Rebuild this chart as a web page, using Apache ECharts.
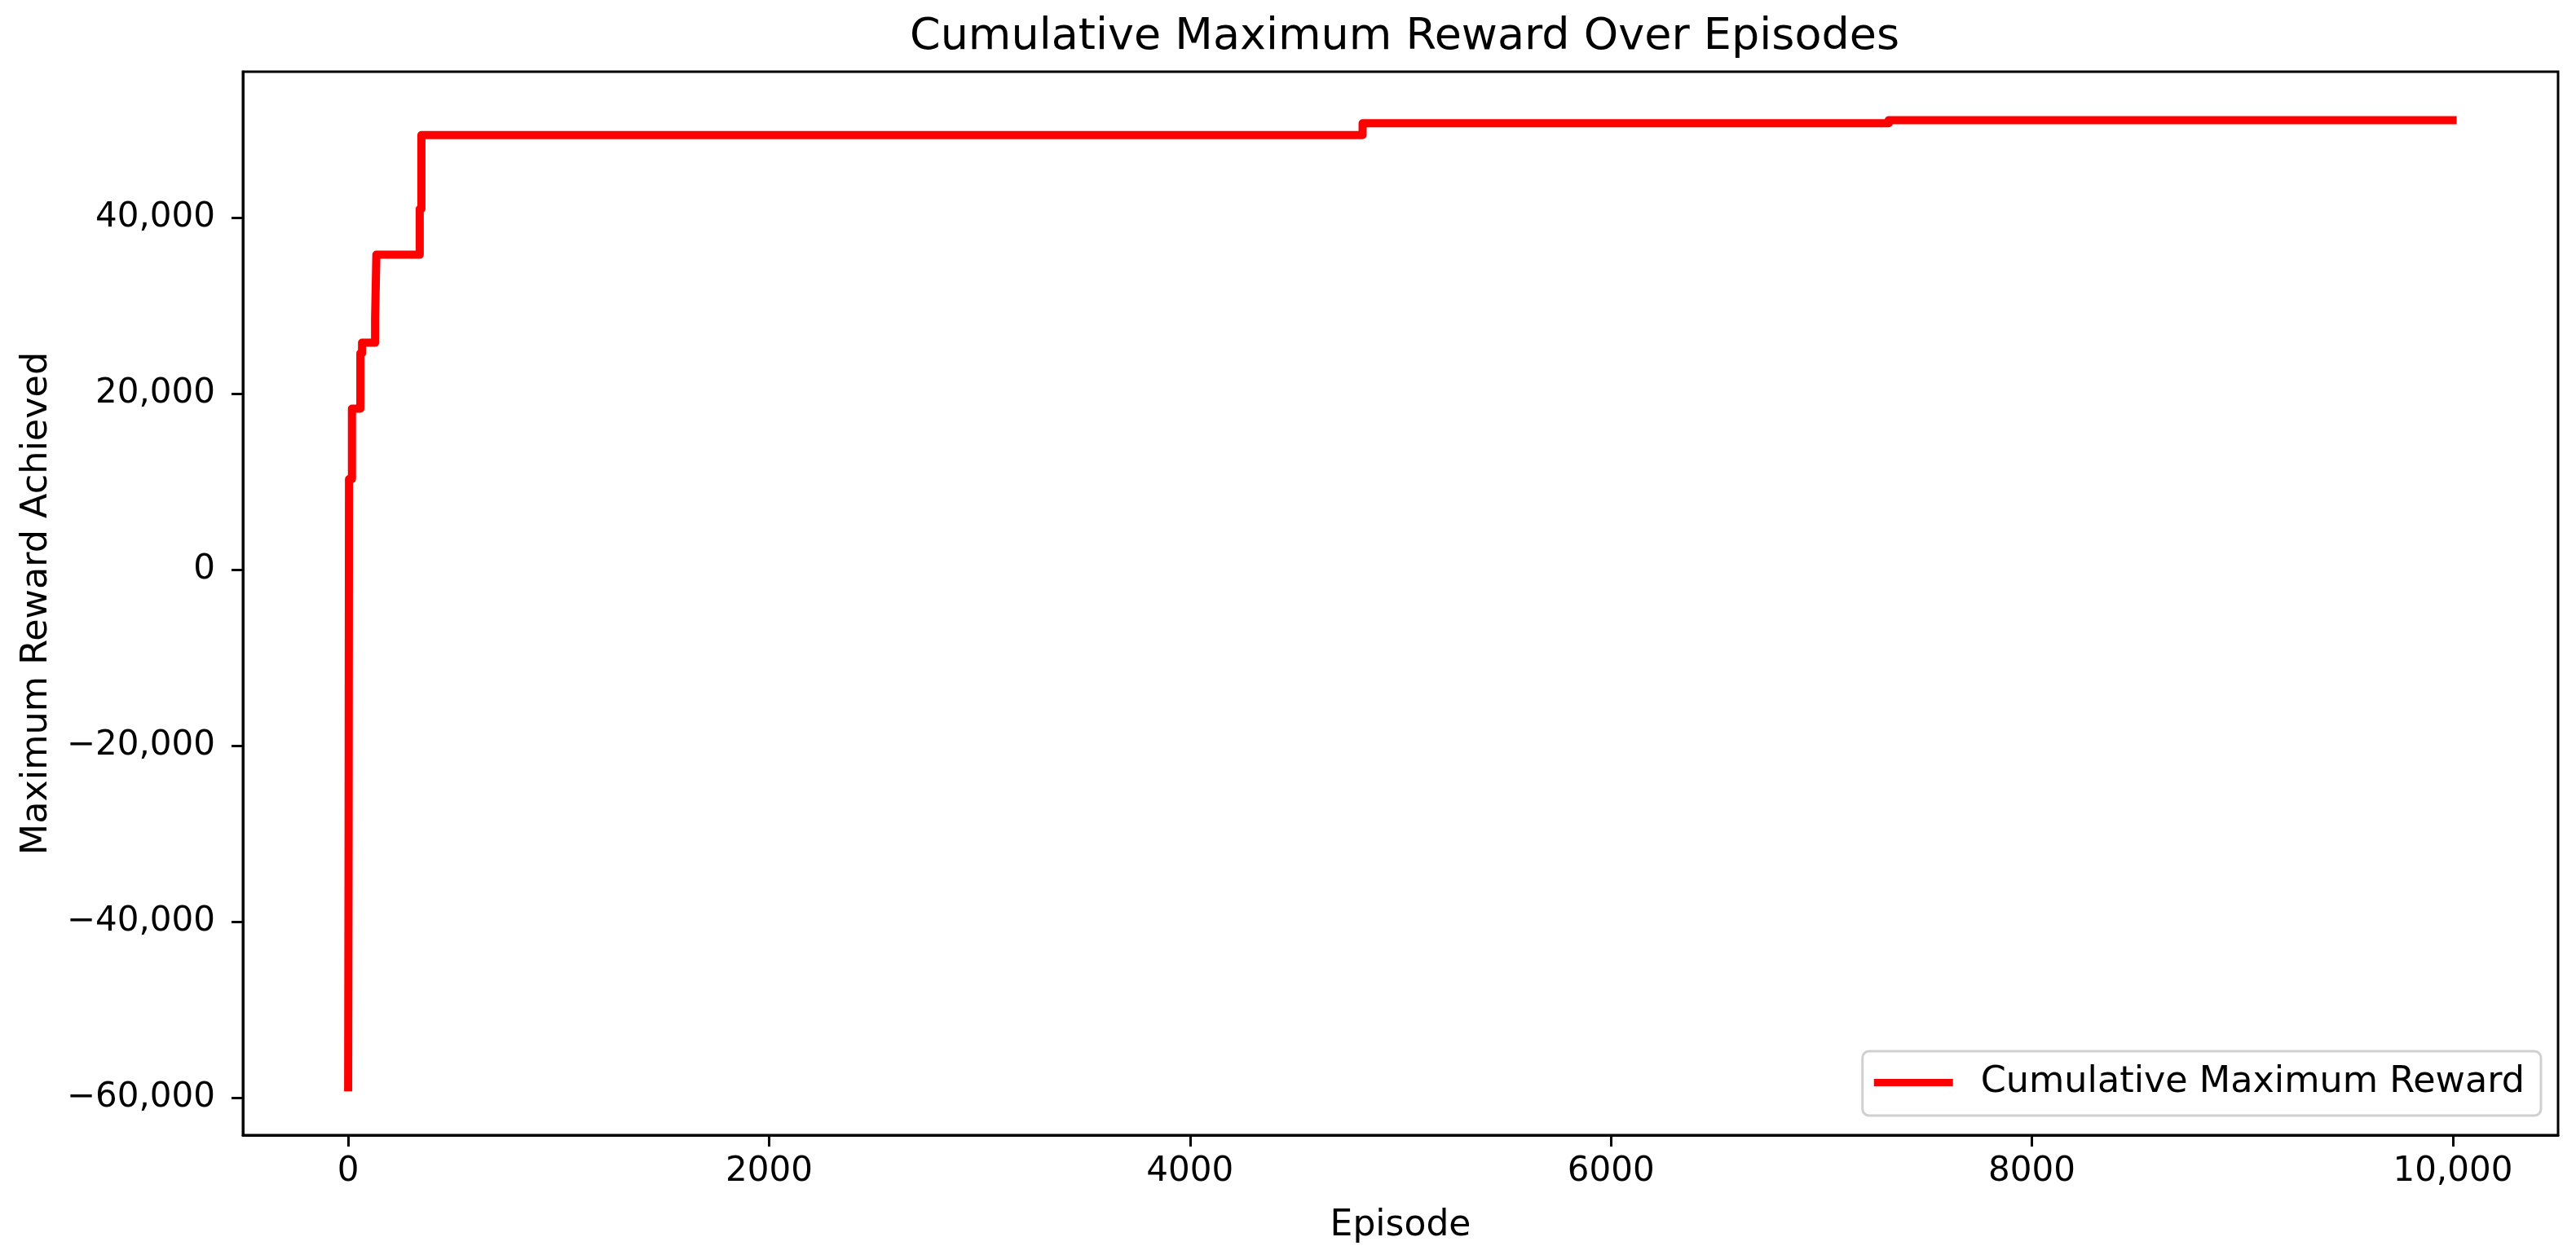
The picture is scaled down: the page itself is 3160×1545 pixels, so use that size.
<!DOCTYPE html>
<html>
<head>
<meta charset="utf-8">
<script src="https://cdn.jsdelivr.net/npm/echarts@6/dist/echarts.min.js"></script>
<style>
html,body{margin:0;padding:0;background:#fff;}
#chart{width:3160px;height:1545px;}
</style>
</head>
<body>
<div id="chart"></div>
<script>
// Change points of the cumulative maximum reward (episode, reward)
const episodes = [0, 2, 4, 18, 58, 66, 128, 134, 340, 348, 4820, 7320, 9999];
const rewards = [-58800, -30500, 10300, 18300, 24600, 25800, 28500, 35800, 41000, 49400, 50750, 51100, 51100];

const xTickValues = [0, 2000, 4000, 6000, 8000, 10000];
const xTickLabels = ['0', '2000', '4000', '6000', '8000', '10,000'];
const yTickValues = [-60000, -40000, -20000, 0, 20000, 40000];
const yTickLabels = ['\u221260,000', '\u221240,000', '\u221220,000', '0', '20,000', '40,000'];

const FONT = 'DejaVu Sans';
const chart = echarts.init(document.getElementById('chart'));

const seriesData = episodes.map((e, i) => [e, rewards[i]]);

chart.setOption({
  animation: false,
  backgroundColor: '#ffffff',
  title: {
    text: 'Cumulative Maximum Reward Over Episodes',
    left: 1718,
    textAlign: 'center',
    top: 14,
    textStyle: { fontFamily: FONT, fontSize: 54, fontWeight: 'normal', color: '#000' }
  },
  grid: {
    left: 298, right: 22, top: 88, bottom: 152,
    show: true, borderColor: '#000', borderWidth: 3, backgroundColor: 'transparent'
  },
  legend: {
    right: 43,
    bottom: 176,
    orient: 'horizontal',
    icon: 'rect',
    itemWidth: 97,
    itemHeight: 9,
    padding: [16, 20, 18, 14],
    backgroundColor: '#fff',
    borderColor: '#d0d0d0',
    borderWidth: 3,
    borderRadius: 8,
    textStyle: { fontFamily: FONT, fontSize: 44.5, color: '#000', padding: [0, 0, 0, 29] },
    data: ['Cumulative Maximum Reward']
  },
  xAxis: {
    type: 'value',
    min: -500,
    max: 10500,
    name: 'Episode',
    nameLocation: 'middle',
    nameGap: 90,
    nameTextStyle: { fontFamily: FONT, fontSize: 44, color: '#000' },
    axisLine: { show: true, onZero: false, lineStyle: { color: '#000', width: 3 } },
    axisTick: { show: true, inside: false, length: 14, customValues: xTickValues, lineStyle: { color: '#000', width: 3 } },
    axisLabel: {
      customValues: xTickValues,
      margin: 24,
      fontFamily: FONT, fontSize: 42, color: '#000',
      formatter: v => { const i = xTickValues.indexOf(v); return i >= 0 ? xTickLabels[i] : ''; }
    },
    splitLine: { show: false }
  },
  yAxis: {
    type: 'value',
    min: -64250,
    max: 56600,
    name: 'Maximum Reward Achieved',
    nameLocation: 'middle',
    nameGap: 230,
    nameTextStyle: { fontFamily: FONT, fontSize: 44.5, color: '#000' },
    axisLine: { show: true, onZero: false, lineStyle: { color: '#000', width: 3 } },
    axisTick: { show: true, inside: false, length: 14, customValues: yTickValues, lineStyle: { color: '#000', width: 3 } },
    axisLabel: {
      customValues: yTickValues,
      margin: 34,
      fontFamily: FONT, fontSize: 42, color: '#000',
      formatter: v => { const i = yTickValues.indexOf(v); return i >= 0 ? yTickLabels[i] : ''; }
    },
    splitLine: { show: false }
  },
  series: [{
    name: 'Cumulative Maximum Reward',
    type: 'line',
    step: 'end',
    showSymbol: false,
    symbol: 'none',
    itemStyle: { color: '#ff0000' },
    lineStyle: { color: '#ff0000', width: 10, join: 'round', cap: 'square' },
    data: seriesData
  }]
});
</script>
</body>
</html>
